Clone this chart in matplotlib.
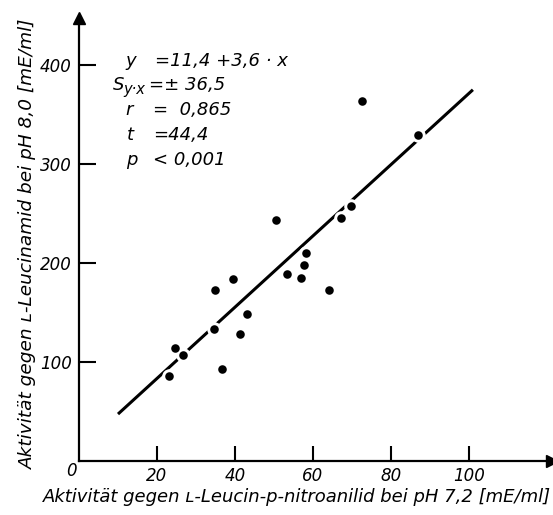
import matplotlib
matplotlib.use("Agg")
import matplotlib.pyplot as plt
from matplotlib import font_manager

# Activity measurements (mE/ml)
x_vals = [72.6, 86.8, 69.8, 67.1, 50.4, 58.2, 57.8, 53.3, 56.8, 64.0,
          39.5, 34.8, 43.0, 34.5, 41.4, 24.6, 26.7, 36.7, 23.2]
y_vals = [364, 329, 258, 245, 243, 210, 198, 189, 185, 173,
          184, 173, 148, 133, 128, 114, 107, 93, 86]

# Regression line y = a + b*x
intercept = 11.4
slope = 3.6
line_x = [10, 101]

x_ticks = [20, 40, 60, 80, 100]
y_ticks = [100, 200, 300, 400]

x_label = "Aktivität gegen ʟ-Leucin-p-nitroanilid bei pH 7,2 [mE/ml]"
y_label = "Aktivität gegen ʟ-Leucinamid bei pH 8,0 [mE/ml]"

FAMILY = ["DejaVu Sans"]
font_kw = dict(family=FAMILY, style="italic")

W, H = 553, 515
fig = plt.figure(figsize=(W / 100, H / 100), dpi=100)

# axes origin at pixel (79, 461), x arrow tip at 552, y arrow tip at 18
x0, y0, x1, y1 = 79, 461, 552, 18
ax = fig.add_axes([x0 / W, (H - y0) / H, (x1 - x0) / W, (y0 - y1) / H])
ax.set_xlim(0, (x1 - x0) / 3.9)
ax.set_ylim(0, (y0 - y1) / 0.99)

for side in ("top", "right"):
    ax.spines[side].set_visible(False)
for side in ("left", "bottom"):
    ax.spines[side].set_linewidth(1.6)

# arrow heads
ax.plot(1, 0, marker=">", color="black", markersize=9,
        transform=ax.transAxes, clip_on=False)
ax.plot(0, 1, marker="^", color="black", markersize=9,
        transform=ax.transAxes, clip_on=False)

ax.set_xticks(x_ticks)
ax.set_yticks(y_ticks)
ax.tick_params(axis="x", direction="in", length=11, width=1.5, pad=4)
ax.tick_params(axis="y", direction="in", length=12, width=1.5, pad=5)
for lab in ax.get_xticklabels() + ax.get_yticklabels():
    lab.set_fontproperties(font_manager.FontProperties(size=12, **font_kw))

# regression line
ax.plot(line_x, [intercept + slope * v for v in line_x],
        color="black", linewidth=2.2, zorder=2, solid_capstyle="butt")

# points with white halo that breaks the line
ax.scatter(x_vals, y_vals, s=110, color="white", zorder=3, linewidths=0)
ax.scatter(x_vals, y_vals, s=38, color="black", zorder=4, linewidths=0)

def ftext(px, py, s, size=13, **kw):
    fig.text(px / W, 1 - py / H, s, fontsize=size, va="center",
             **font_kw, **kw)

# origin label
ftext(71, 471, "0", size=12, ha="center")

# statistics block
ftext(125, 61, "y")
ftext(155, 61, "=11,4 +3,6 · x")
ftext(113, 85, "S")
ftext(123, 89, "y·x", size=10.5)
ftext(149, 85, "=± 36,5")
ftext(125, 110, "r")
ftext(153, 110, "=  0,865")
ftext(127, 135, "t")
ftext(153, 135, "=44,4")
ftext(126, 160, "p")
ftext(153, 160, "< 0,001")

# axis titles
ftext(297, 497, x_label, size=13, ha="center")
fig.text(28 / W, 1 - 244 / H, y_label, fontsize=13.3, rotation=90,
         ha="center", va="center", **font_kw)

fig.savefig("out.png", dpi=100, facecolor="white")
